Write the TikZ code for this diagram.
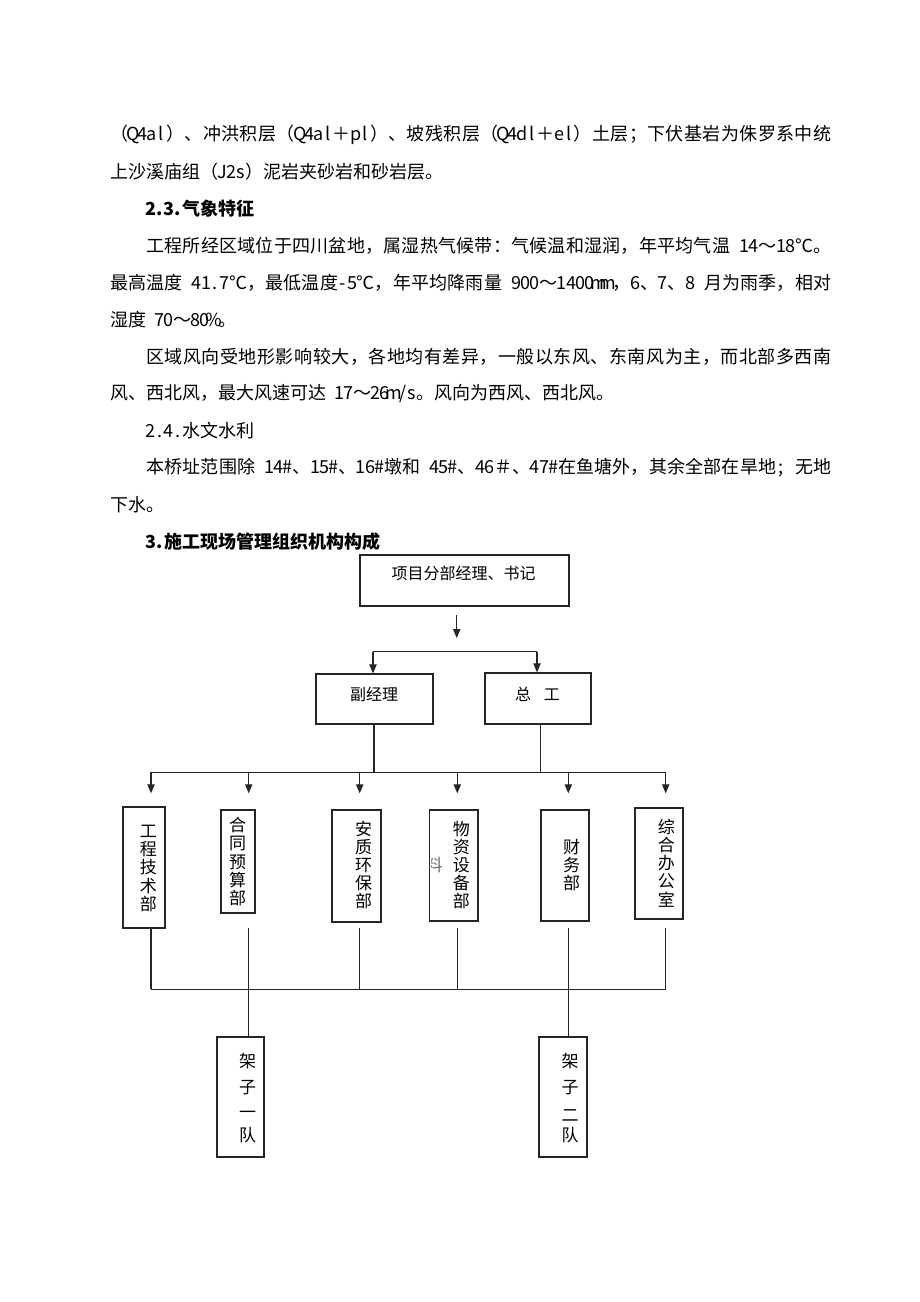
\documentclass[tikz,border=0pt]{standalone}
\usepackage{fontspec}
\setmainfont{Noto Sans CJK SC}
\usetikzlibrary{arrows.meta,fit}
\ExplSyntaxOn
\cs_new_protected:Npn \my_cbox:n #1
  {
    \int_compare:nNnTF { `#1 } < { 256 }
      { \hbox_to_wd:nn { 0.5em } { \hss #1 \hss } }
      { \hbox_to_wd:nn { 1em } { \hss #1 \hss } }
  }
\NewDocumentCommand \jline { m m }
  { \hbox_to_wd:nn { #1 } { \tl_map_inline:nn { #2 } { \my_cbox:n { ##1 } \hfil } \unskip } }
\NewDocumentCommand \nline { m }
  { \hbox:n { \tl_map_inline:nn { #1 } { \my_cbox:n { ##1 } } } }
\ExplSyntaxOff
\begin{document}
\begin{tikzpicture}[x=0.75pt,y=-0.75pt,
  txt/.style={anchor=west, inner sep=0pt, font=\fontsize{13.5pt}{16pt}\selectfont},
  bld/.style={txt, font=\fontsize{13.5pt}{16pt}\selectfont\bfseries},
  box/.style={draw=black!85, line width=0.9pt, inner sep=0pt},
  lbl/.style={inner sep=0pt, font=\fontsize{12pt}{14pt}\selectfont},
  vlbl/.style={inner sep=0pt, align=center, font=\fontsize{12.75pt}{13.65pt}\selectfont},
  tlbl/.style={inner sep=0pt, font=\fontsize{12.75pt}{14pt}\selectfont},
  ln/.style={draw=black!85, line width=0.8pt},
  arr/.style={ln, -{Triangle[length=6.75pt,width=5.5pt]}}
]
\useasboundingbox (0,0) rectangle (920,1302);
\fill[white] (0,0) rectangle (920,1302);

% ---------- text ----------
\node[txt] (p1) at (110,135) {\jline{540.75pt}{（Q4al）、冲洪积层（Q4al＋pl）、坡残积层（Q4dl＋el）土层；下伏基岩为侏罗系中统}};
\node[txt] (p2) at (110,172) {\nline{上沙溪庙组（J2s）泥岩夹砂岩和砂岩层。}};
\node[bld] (h23) at (146,209) {\nline{2.3.气象特征}};
\node[txt] (p3) at (146,246) {\jline{513.75pt}{工程所经区域位于四川盆地，属湿热气候带：气候温和湿润，年平均气温~14～18℃。}};
\node[txt] (p4) at (110,283) {\jline{540.75pt}{最高温度~41.7℃，最低温度-5℃，年平均降雨量~900～1400mm，6、7、8~月为雨季，相对}};
\node[txt] (p5) at (110,320) {\nline{湿度~70～80\%。}};
\node[txt] (p6) at (146,357) {\jline{513.75pt}{区域风向受地形影响较大，各地均有差异，一般以东风、东南风为主，而北部多西南}};
\node[txt] (p7) at (110,394) {\nline{风、西北风，最大风速可达~17～26m/s。风向为西风、西北风。}};
\node[txt] (h24) at (146,431) {\nline{2.4.水文水利}};
\node[txt] (p8) at (146,468) {\jline{513.75pt}{本桥址范围除~14\#、15\#、16\#墩和~45\#、46＃、47\#在鱼塘外，其余全部在旱地;~无地}};
\node[txt] (p9) at (110,505) {\nline{下水。}};
\node[bld] (h3) at (146,542) {\nline{3.施工现场管理组织机构构成}};

% ---------- boxes ----------
\node[box, fit={(360,555)(569,606)}] (top) {};
\node[lbl] (topt) at (463.5,573) {项目分部经理、书记};
\node[box, fit={(316,674)(433,724)}] (fj) {};
\node[lbl] (fjt) at (374,694) {副经理};
\node[box, fit={(485,673)(591,724)}] (zg) {};
\node[lbl] (zgt) at (537.5,694) {总\hspace{9.75pt}工};

\begin{scope}
  \clip (431,810.5) rectangle (478,921);
  \node[inner sep=0pt, font=\fontsize{12.75pt}{13pt}\selectfont, text=black!60] (liao) at (434,865) {料};
\end{scope}

\node[box, fit={(123,807)(165,928)}] (d1) {};
\node[vlbl] (d1t) at (148.3,868.3) {工\\程\\技\\术\\部};
\node[box, fit={(221,810)(255,913)}] (d2) {};
\node[vlbl] (d2t) at (237.7,861.5) {合\\同\\预\\算\\部};
\node[box, fit={(332,810)(381,922)}] (d3) {};
\node[vlbl] (d3t) at (363.7,865) {安\\质\\环\\保\\部};
\node[box, fit={(429.5,810)(478,921)}] (d4) {};
\node[vlbl] (d4t) at (461.3,865) {物\\资\\设\\备\\部};
\node[box, fit={(541,810)(589,921)}] (d5) {};
\node[vlbl] (d5t) at (571.7,864.8) {财\\务\\部};
\node[box, fit={(635,808)(683,919)}] (d6) {};
\node[vlbl] (d6t) at (666.3,863) {综\\合\\办\\公\\室};

\node[box, fit={(217,1037)(264,1157)}] (t1) {};
\node[tlbl] (t1a) at (247.7,1061) {架};
\node[tlbl] (t1b) at (247.7,1088) {子};
\node[tlbl] (t1c) at (247.7,1115) {一};
\node[tlbl] (t1d) at (247.7,1135) {队};
\node[box, fit={(539,1037)(587,1157)}] (t2) {};
\node[tlbl] (t2a) at (570,1061) {架};
\node[tlbl] (t2b) at (570,1088) {子};
\node[tlbl] (t2c) at (570,1116) {二};
\node[tlbl] (t2d) at (570,1135) {队};

% ---------- connectors ----------
\coordinate (a0) at (456.7,615);
\coordinate (a1) at (456.7,638);
\draw[arr] (a0) -- (a1);

\coordinate (sL) at (373,651.7);
\coordinate (sR) at (537,651.7);
\draw[ln] (sL) -- (sR);
\draw[arr] (sL) -- (sL |- fj.north);
\draw[arr] (sR) -- (sR |- zg.north);

\coordinate (fjm) at (374,772.3);
\coordinate (zgm) at (540.7,772.3);
\draw[ln] (fjm |- fj.south) -- (fjm);
\draw[ln] (zgm |- zg.south) -- (zgm);

\foreach \i/\x in {1/151,2/248.7,3/359.7,4/457.3,5/568.3,6/665.7}{
  \coordinate (m\i) at (\x,772.3);
  \coordinate (e\i) at (\x,793.3);
  \coordinate (c\i) at (\x,928.3);
  \coordinate (b\i) at (\x,989.3);
}
\draw[ln] (m1) -- (m6);
\foreach \i in {1,...,6}{ \draw[arr] (m\i) -- (e\i); }

\draw[ln] (b1) -- (b6);
\foreach \i in {1,3,4,6}{ \draw[ln] (c\i) -- (b\i); }
\draw[ln] (c2) -- (c2 |- t1.north);
\draw[ln] (c5) -- (c5 |- t2.north);
\end{tikzpicture}
\end{document}
